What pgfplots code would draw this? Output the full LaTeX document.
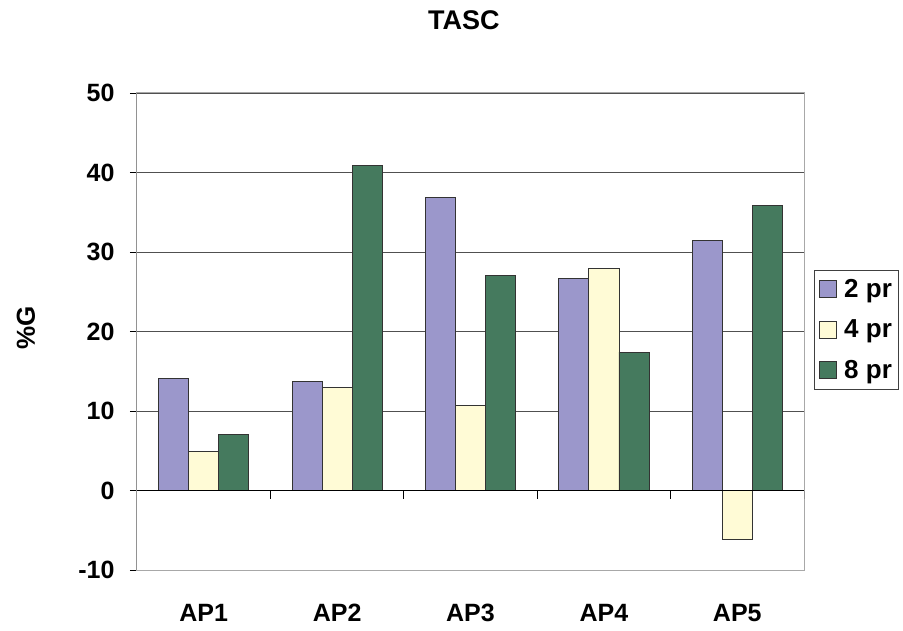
\documentclass[border=0pt]{standalone}
\usepackage{fontspec}
\setmainfont{Liberation Sans}
\usepackage{pgfplots}
\pgfplotsset{compat=1.18}

\definecolor{c2}{HTML}{9B97CB}
\definecolor{c4}{HTML}{FFFBD6}
\definecolor{c8}{HTML}{457A5E}
\definecolor{gridc}{HTML}{505050}
\definecolor{framec}{HTML}{A8A8A8}

\begin{document}
\begin{tikzpicture}
\useasboundingbox (0,0) rectangle (903pt,630pt);
\begin{axis}[
  at={(137pt,60pt)}, anchor=south west,
  scale only axis, width=667pt, height=477pt,
  xmin=-0.5, xmax=4.5, ymin=-10, ymax=50,
  xtick={0,...,4}, xticklabels={AP1,AP2,AP3,AP4,AP5},
  ytick={-10,0,...,50},
  x tick style={draw=none},
  y tick style={black, line width=0.8pt},
  tick pos=left, tick align=outside, major tick length=7pt,
  ymajorgrids, grid style={gridc, line width=0.9pt},
  axis line style={framec, line width=1pt},
  ticklabel style={font=\fontsize{25}{25}\selectfont\bfseries},
  /pgf/number format/assume math mode=true,
  yticklabel style={xshift=-12pt},
  xticklabel style={anchor=center, yshift=-36pt},
  title={TASC},
  title style={font=\fontsize{27}{27}\selectfont\bfseries, anchor=center,
    at={(axis description cs:0.49,1)}, yshift=67pt},
  ylabel={\%G},
  ylabel style={font=\fontsize{26}{26}\selectfont\bfseries, anchor=center,
    at={(axis description cs:-0.1664,0.507)}},
  legend style={at={(axis description cs:1.015,0.629)}, anchor=north west,
    draw=black!75, line width=0.8pt, inner xsep=5pt, inner ysep=7pt,
    font=\fontsize{26}{26}\selectfont\bfseries,
    row sep=17pt, cells={anchor=west}},
  legend image code/.code={
    \draw[#1, draw=black!80, line width=0.8pt] (0pt,-8.5pt) rectangle (17pt,8.5pt);
    \path (22pt,0pt);},
]
\addplot[ybar, bar width=0.225, bar shift=-0.225, fill=c2, draw=black!80, line width=0.8pt]
  coordinates {(0,14.1) (1,13.7) (2,36.9) (3,26.7) (4,31.5)};
\addplot[ybar, bar width=0.225, bar shift=0, fill=c4, draw=black!80, line width=0.8pt]
  coordinates {(0,4.9) (1,13.0) (2,10.7) (3,27.9) (4,-6.2)};
\addplot[ybar, bar width=0.225, bar shift=0.225, fill=c8, draw=black!80, line width=0.8pt]
  coordinates {(0,7.0) (1,40.9) (2,27.0) (3,17.4) (4,35.8)};
\legend{2 pr,4 pr,8 pr}
% left axis and zero line in black, with category separators below zero
\draw[black, line width=1pt] (rel axis cs:0,0) -- (rel axis cs:0,1);
\draw[black, line width=1pt] (axis cs:-0.5,0) -- (axis cs:4.5,0);
\draw[black, line width=0.8pt] (axis cs:0.5,0) -- ([yshift=-8pt]axis cs:0.5,0);
\draw[black, line width=0.8pt] (axis cs:1.5,0) -- ([yshift=-8pt]axis cs:1.5,0);
\draw[black, line width=0.8pt] (axis cs:2.5,0) -- ([yshift=-8pt]axis cs:2.5,0);
\draw[black, line width=0.8pt] (axis cs:3.5,0) -- ([yshift=-8pt]axis cs:3.5,0);
\draw[black, line width=0.8pt] (axis cs:4.5,0) -- ([yshift=-8pt]axis cs:4.5,0);
\end{axis}
\end{tikzpicture}
\end{document}
